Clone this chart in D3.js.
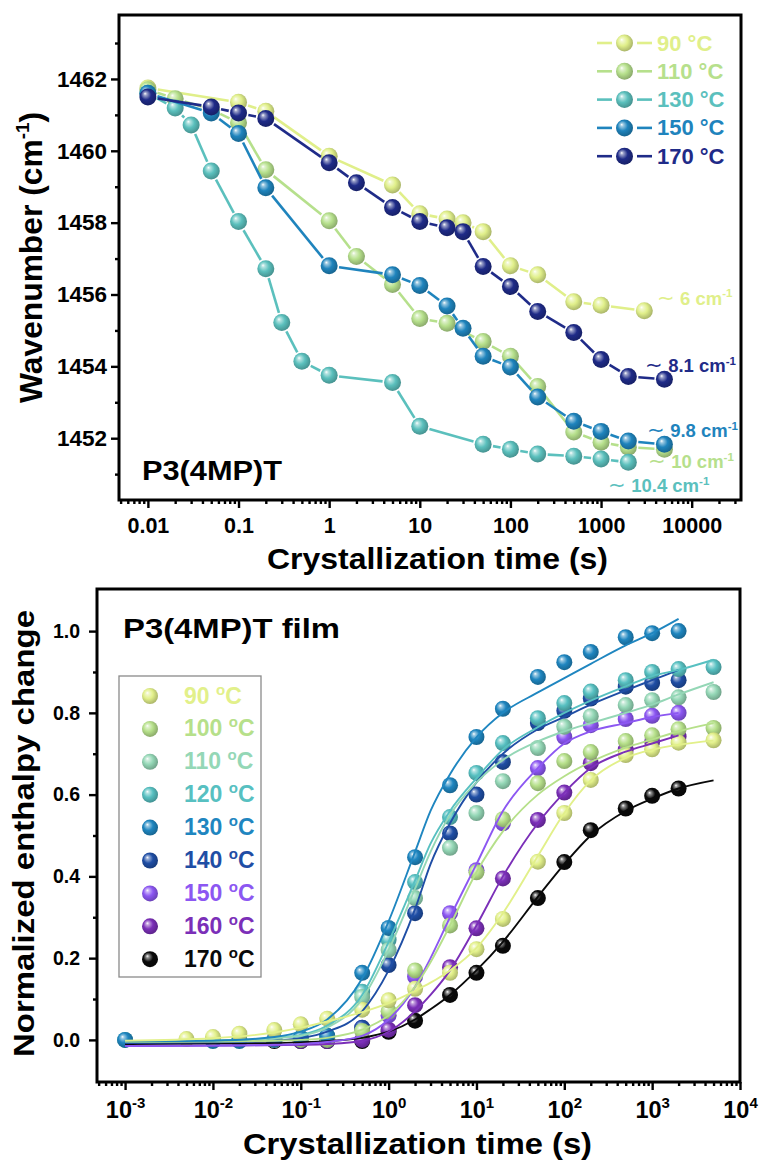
<!DOCTYPE html>
<html>
<head>
<meta charset="utf-8">
<script src="https://cdn.jsdelivr.net/npm/d3@7"></script>
<style>
  body { margin: 0; background: #fff; }
  svg { display: block; }
  text { font-family: "Liberation Sans", Arial, sans-serif; font-weight: bold; }
</style>
</head>
<body>
<svg id="fig" width="759" height="1167"></svg>
<script>
// ---------- Panel (a): IR band position vs crystallization time ----------
const waveTemps  = ["90 °C", "110 °C", "130 °C", "150 °C", "170 °C"];
const waveColors = ["#e0ef8a", "#b6e08c", "#5bc0bd", "#1f84bd", "#1f2b88"];

const time90  = [0.01, 0.1, 0.2, 1, 5, 10, 20, 30, 50, 100, 200, 500, 1000, 3000];
const wave90  = [1461.75, 1461.35, 1461.1, 1459.85, 1459.05, 1458.25, 1458.1, 1458.0, 1457.75, 1456.8, 1456.55, 1455.8, 1455.7, 1455.55];
const time110 = [0.01, 0.02, 0.05, 0.1, 0.2, 1, 2, 5, 10, 20, 50, 100, 200, 500, 1000, 2000, 5000];
const wave110 = [1461.7, 1461.45, 1461.15, 1460.78, 1459.47, 1458.05, 1457.06, 1456.28, 1455.33, 1455.2, 1454.69, 1454.28, 1453.44, 1452.17, 1451.89, 1451.75, 1451.69];
const time130 = [0.01, 0.02, 0.03, 0.05, 0.1, 0.2, 0.3, 0.5, 1, 5, 10, 50, 100, 200, 500, 1000, 2000];
const wave130 = [1461.6, 1461.19, 1460.72, 1459.44, 1458.03, 1456.72, 1455.22, 1454.14, 1453.75, 1453.55, 1452.33, 1451.83, 1451.69, 1451.56, 1451.5, 1451.42, 1451.33];
const time150 = [0.01, 0.05, 0.1, 0.2, 1, 5, 10, 20, 30, 50, 100, 200, 500, 1000, 2000, 5000];
const wave150 = [1461.6, 1461.05, 1460.48, 1458.97, 1456.8, 1456.55, 1456.25, 1455.68, 1455.06, 1454.28, 1453.98, 1453.15, 1452.47, 1452.19, 1451.92, 1451.83];
const time170 = [0.01, 0.05, 0.1, 0.2, 1, 2, 5, 10, 20, 30, 50, 100, 200, 500, 1000, 2000, 5000];
const wave170 = [1461.5, 1461.22, 1461.05, 1460.9, 1459.67, 1459.11, 1458.42, 1458.03, 1457.86, 1457.75, 1456.78, 1456.22, 1455.53, 1454.94, 1454.19, 1453.72, 1453.64];

const waveTimes = [time90, time110, time130, time150, time170];
const waveVals  = [wave90, wave110, wave130, wave150, wave170];

const waveYTicks = [1452, 1454, 1456, 1458, 1460, 1462];
const waveXTicks = [0.01, 0.1, 1, 10, 100, 1000, 10000];
const waveXLabels = ["0.01", "0.1", "1", "10", "100", "1000", "10000"];

// shift annotations: label, colour index, anchor (time, wavenumber)
const shiftLabels = ["6", "8.1", "9.8", "10", "10.4"];
const shiftColor  = [0, 4, 3, 1, 2];
const shiftTime   = [4140, 3055, 3214, 3296, 1194];
const shiftWave   = [1455.71, 1453.84, 1452.03, 1451.16, 1450.5];

// ---------- Panel (b): normalized enthalpy change vs crystallization time ----------
const enthTemps  = [90, 100, 110, 120, 130, 140, 150, 160, 170];
const enthColors = ["#e2f08a", "#b6e08a", "#94d7b6", "#57c0c1", "#1f86c0", "#1f4ea5", "#8c57f2", "#7b2fb8", "#0a0a0a"];

const enthTimes = [0.001, 0.005, 0.01, 0.02, 0.05, 0.1, 0.2, 0.5, 1, 2, 5, 10, 20, 50, 100, 200, 500, 1000, 2000, 5000];
const enth90  = [null, 0.002, 0.007, 0.015, 0.024, 0.038, 0.052, 0.074, 0.097, 0.125, 0.164, 0.222, 0.296, 0.436, 0.555, 0.636, 0.697, 0.711, 0.727, 0.733];
const enth100 = [null, null, 0.0, 0.0, 0.0, 0.0, 0.0, 0.022, 0.07, 0.17, 0.28, 0.41, 0.54, 0.628, 0.682, 0.704, 0.731, 0.745, 0.76, 0.763];
const enth110 = [null, null, 0.0, 0.0, 0.0, 0.002, 0.005, 0.105, 0.22, 0.347, 0.47, 0.555, 0.633, 0.714, 0.766, 0.792, 0.819, 0.831, 0.838, 0.851];
const enth120 = [0.0, null, 0.0, 0.0, 0.0, 0.005, 0.01, 0.118, 0.245, 0.386, 0.545, 0.653, 0.726, 0.787, 0.824, 0.852, 0.88, 0.9, 0.907, 0.912];
const enth130 = [0.0, null, -0.003, -0.003, 0.0, 0.005, 0.01, 0.164, 0.274, 0.447, 0.623, 0.741, 0.81, 0.888, 0.924, 0.949, 0.985, 0.995, 1.0, null];
const enth140 = [null, null, null, null, 0.0, 0.0, 0.0, 0.03, 0.183, 0.31, 0.505, 0.6, 0.68, 0.775, 0.805, 0.835, 0.864, 0.873, 0.88, null];
const enth150 = [null, null, null, null, 0.0, 0.0, 0.0, 0.03, 0.06, 0.155, 0.31, 0.415, 0.53, 0.665, 0.741, 0.77, 0.785, 0.793, 0.8, null];
const enth160 = [null, null, null, null, 0.0, -0.003, -0.003, 0.0, 0.025, 0.085, 0.178, 0.273, 0.395, 0.538, 0.605, 0.677, 0.71, 0.73, 0.742, null];
const enth170 = [null, null, null, null, -0.003, -0.003, -0.003, -0.003, 0.02, 0.047, 0.11, 0.164, 0.23, 0.347, 0.435, 0.513, 0.566, 0.597, 0.615, null];
const enthVals = [enth90, enth100, enth110, enth120, enth130, enth140, enth150, enth160, enth170];

// fitted kinetic curves, sampled on a common time grid
const fitTimes = [0.001, 0.01, 0.05, 0.1, 0.2, 0.5, 1, 2, 3, 5, 10, 20, 50, 100, 200, 500, 1000, 2000, 5000];
const fit90  = [-0.002, 0.004, 0.018, 0.03, 0.045, 0.068, 0.09, 0.12, 0.14, 0.17, 0.225, 0.31, 0.45, 0.555, 0.635, 0.69, 0.71, 0.722, 0.732];
const fit100 = [-0.005, -0.004, -0.002, 0.0, 0.005, 0.025, 0.06, 0.13, 0.19, 0.28, 0.41, 0.51, 0.6, 0.645, 0.68, 0.715, 0.735, 0.755, 0.775];
const fit110 = [-0.004, -0.002, 0.004, 0.01, 0.03, 0.1, 0.22, 0.37, 0.46, 0.55, 0.63, 0.685, 0.73, 0.755, 0.775, 0.8, 0.82, 0.845, 0.875];
const fit120 = [-0.004, -0.002, 0.005, 0.012, 0.035, 0.11, 0.24, 0.39, 0.48, 0.56, 0.64, 0.71, 0.765, 0.8, 0.83, 0.865, 0.89, 0.905, 0.93];
const fit130 = [-0.004, -0.002, 0.007, 0.02, 0.05, 0.15, 0.29, 0.46, 0.56, 0.65, 0.74, 0.8, 0.85, 0.885, 0.92, 0.965, 0.995, 1.03, null];
const fit140 = [-0.008, -0.006, -0.002, 0.004, 0.02, 0.07, 0.17, 0.32, 0.43, 0.53, 0.63, 0.7, 0.76, 0.79, 0.82, 0.855, 0.88, 0.905, null];
const fit150 = [-0.015, -0.014, -0.012, -0.01, -0.005, 0.01, 0.05, 0.13, 0.2, 0.3, 0.43, 0.56, 0.665, 0.725, 0.755, 0.775, 0.79, 0.8, null];
const fit160 = [-0.015, -0.014, -0.013, -0.012, -0.01, -0.002, 0.02, 0.07, 0.11, 0.17, 0.28, 0.4, 0.53, 0.605, 0.665, 0.705, 0.725, 0.745, null];
const fit170 = [-0.01, -0.009, -0.008, -0.006, -0.003, 0.005, 0.02, 0.05, 0.075, 0.11, 0.17, 0.24, 0.35, 0.43, 0.5, 0.56, 0.59, 0.615, 0.635];
const fitVals = [fit90, fit100, fit110, fit120, fit130, fit140, fit150, fit160, fit170];

const enthYTicks = [0.0, 0.2, 0.4, 0.6, 0.8, 1.0];
const enthYMinor = [0.1, 0.3, 0.5, 0.7, 0.9];
const enthXTicks = [1e-3, 1e-2, 1e-1, 1, 10, 100, 1000, 10000];
const enthXExp   = ["-3", "-2", "-1", "0", "1", "2", "3", "4"];
const enthDrawOrder = [8, 7, 6, 5, 3, 2, 1, 4, 0];

// ---------- set-up ----------
const svg = d3.select("#fig");
const defs = svg.append("defs");

function sphere(id, color) {
  const c = d3.color(color);
  const g = defs.append("radialGradient").attr("id", id)
    .attr("cx", "45%").attr("cy", "45%").attr("r", "60%")
    .attr("fx", "33%").attr("fy", "30%");
  g.append("stop").attr("offset", "0%").attr("stop-color", "#ffffff");
  g.append("stop").attr("offset", "16%").attr("stop-color", d3.interpolateRgb(color, "#ffffff")(0.55));
  g.append("stop").attr("offset", "50%").attr("stop-color", color);
  g.append("stop").attr("offset", "100%").attr("stop-color", c.darker(0.9).formatHex());
  return `url(#${id})`;
}
const waveFill = waveColors.map((c, i) => sphere("wv" + i, c));
const enthFill = enthColors.map((c, i) => sphere("en" + i, c));

function logMinor(dom, majors) {
  const out = [];
  for (let e = -5; e <= 5; e++) for (let k = 1; k <= 9; k++) {
    const v = +(k * Math.pow(10, e)).toPrecision(6);
    if (v >= dom[0] && v <= dom[1] && !majors.some(m => Math.abs(m - v) / m < 1e-6)) out.push(v);
  }
  return out;
}
function styleAxis(g) {
  g.select(".domain").remove();
  g.selectAll(".tick line").attr("stroke", "#000").attr("stroke-width", 2.4);
}

// ================= Panel (a) =================
const xT = d3.scaleLog().domain([0.0048, 35000]).range([119, 741]);
const yT = d3.scaleLinear().domain([1450.28, 1463.78]).range([500, 15]);
const gA = svg.append("g");

// axes
const yAx = gA.append("g").attr("transform", "translate(119,0)")
  .call(d3.axisLeft(yT).tickValues(waveYTicks).tickSize(8).tickFormat(d3.format("d")));
styleAxis(yAx);
yAx.selectAll("text").attr("x", -12).attr("font-size", 22.5).attr("fill", "#000");
const yAxm = gA.append("g").attr("transform", "translate(119,0)")
  .call(d3.axisLeft(yT).tickValues(d3.range(1451, 1464, 2)).tickSize(4).tickFormat(""));
styleAxis(yAxm);

const xAx = gA.append("g").attr("transform", "translate(0,500)")
  .call(d3.axisBottom(xT).tickValues(waveXTicks).tickSize(8).tickFormat((d, i) => waveXLabels[i]));
styleAxis(xAx);
xAx.selectAll("text").attr("y", 33).attr("dy", null).attr("font-size", 21.5).attr("fill", "#000");
const xAxm = gA.append("g").attr("transform", "translate(0,500)")
  .call(d3.axisBottom(xT).tickValues(logMinor(xT.domain(), waveXTicks)).tickSize(4).tickFormat(""));
styleAxis(xAxm);

gA.append("rect").attr("x", 119).attr("y", 15).attr("width", 622).attr("height", 485)
  .attr("fill", "none").attr("stroke", "#000").attr("stroke-width", 3);

// series: line segments with a gap around each sphere
const rA = 8.5, gapA = rA + 1.5;
waveTimes.forEach((ts, s) => {
  const pts = ts.map((t, i) => [xT(t), yT(waveVals[s][i])]);
  const g = gA.append("g");
  for (let i = 0; i < pts.length - 1; i++) {
    const [x1, y1] = pts[i], [x2, y2] = pts[i + 1];
    const dx = x2 - x1, dy = y2 - y1, L = Math.hypot(dx, dy);
    if (L <= 2 * gapA) continue;
    const ux = dx / L, uy = dy / L;
    g.append("line")
      .attr("x1", x1 + ux * gapA).attr("y1", y1 + uy * gapA)
      .attr("x2", x2 - ux * gapA).attr("y2", y2 - uy * gapA)
      .attr("stroke", waveColors[s]).attr("stroke-width", 2.6);
  }
  g.selectAll("circle").data(pts).join("circle")
    .attr("cx", d => d[0]).attr("cy", d => d[1]).attr("r", rA)
    .attr("fill", waveFill[s]);
});

// legend
const legA = gA.append("g");
waveTemps.forEach((lab, i) => {
  const cy = 43 + i * 28.3;
  legA.append("line").attr("x1", 597).attr("x2", 612).attr("y1", cy).attr("y2", cy)
    .attr("stroke", waveColors[i]).attr("stroke-width", 2.6);
  legA.append("line").attr("x1", 637).attr("x2", 652).attr("y1", cy).attr("y2", cy)
    .attr("stroke", waveColors[i]).attr("stroke-width", 2.6);
  legA.append("circle").attr("cx", 624.5).attr("cy", cy).attr("r", rA).attr("fill", waveFill[i]);
  legA.append("text").attr("x", 657).attr("y", cy + 7.5).attr("font-size", 22)
    .attr("fill", waveColors[i]).text(lab);
});

// shift annotations
shiftLabels.forEach((lab, i) => {
  const t = gA.append("text").attr("x", xT(shiftTime[i])).attr("y", yT(shiftWave[i]))
    .attr("font-size", 18.5).attr("fill", waveColors[shiftColor[i]]);
  t.append("tspan").attr("font-weight", "normal").attr("font-size", 21).text("\u223C");
  t.append("tspan").text(" " + lab + " cm");
  t.append("tspan").attr("font-size", 11.5).attr("dy", -7.5).text("-1");
});

gA.append("text").attr("x", 142).attr("y", 480).attr("font-size", 27)
  .attr("textLength", 140).attr("lengthAdjust", "spacingAndGlyphs").text("P3(4MP)T");

gA.append("text").attr("x", 267).attr("y", 569).attr("font-size", 30)
  .attr("textLength", 341).attr("lengthAdjust", "spacingAndGlyphs").text("Crystallization time (s)");

const yTitleA = gA.append("text").attr("transform", "translate(42,403) rotate(-90)")
  .attr("font-size", 32).attr("textLength", 291).attr("lengthAdjust", "spacingAndGlyphs");
yTitleA.append("tspan").text("Wavenumber (cm");
yTitleA.append("tspan").attr("font-size", 19).attr("dy", -13).text("-1");
yTitleA.append("tspan").attr("dy", 13).text(")");

// ================= Panel (b) =================
const xB = d3.scaleLog().domain([0.000479, 10000]).range([97, 740]);
const yB = d3.scaleLinear().domain([-0.103, 1.103]).range([1082, 589]);
const gB = svg.append("g");

const yBx = gB.append("g").attr("transform", "translate(97,0)")
  .call(d3.axisLeft(yB).tickValues(enthYTicks).tickSize(8).tickFormat(d3.format(".1f")));
styleAxis(yBx);
yBx.selectAll("text").attr("x", -17).attr("font-size", 19.5).attr("fill", "#000");
const yBm = gB.append("g").attr("transform", "translate(97,0)")
  .call(d3.axisLeft(yB).tickValues(enthYMinor).tickSize(4).tickFormat(""));
styleAxis(yBm);

const xBx = gB.append("g").attr("transform", "translate(0,1082)")
  .call(d3.axisBottom(xB).tickValues(enthXTicks).tickSize(8).tickFormat(""));
styleAxis(xBx);
xBx.selectAll(".tick").append("text")
  .attr("y", 36).attr("text-anchor", "middle").attr("fill", "#000").attr("font-size", 23.5)
  .each(function (d, i) {
    const t = d3.select(this);
    t.append("tspan").text("10");
    t.append("tspan").attr("font-size", 15).attr("dy", -10).text(enthXExp[i]);
  });
const xBm = gB.append("g").attr("transform", "translate(0,1082)")
  .call(d3.axisBottom(xB).tickValues(logMinor(xB.domain(), enthXTicks)).tickSize(4).tickFormat(""));
styleAxis(xBm);

gB.append("rect").attr("x", 97).attr("y", 589).attr("width", 643).attr("height", 493)
  .attr("fill", "none").attr("stroke", "#000").attr("stroke-width", 3);

// data spheres
const rB = 8;
enthDrawOrder.forEach(s => {
  const pts = enthTimes.map((t, i) => [t, enthVals[s][i]]).filter(d => d[1] !== null);
  gB.append("g").selectAll("circle").data(pts).join("circle")
    .attr("cx", d => xB(d[0])).attr("cy", d => yB(d[1])).attr("r", rB)
    .attr("fill", enthFill[s]);
});

// fitted curves
const fitLine = d3.line()
  .defined(d => d[1] !== null)
  .x(d => xB(d[0])).y(d => yB(d[1]))
  .curve(d3.curveMonotoneX);
enthDrawOrder.forEach(s => {
  gB.append("path")
    .datum(fitTimes.map((t, i) => [t, fitVals[s][i]]))
    .attr("d", fitLine).attr("fill", "none")
    .attr("stroke", enthColors[s]).attr("stroke-width", 1.9);
});

// legend box
const legB = gB.append("g");
legB.append("rect").attr("x", 119).attr("y", 676).attr("width", 142).attr("height", 301)
  .attr("fill", "#fff").attr("stroke", "#8a8a8a").attr("stroke-width", 1.3);
enthTemps.forEach((T, i) => {
  const cy = 696 + i * 32.9;
  legB.append("circle").attr("cx", 150).attr("cy", cy).attr("r", rB).attr("fill", enthFill[i]);
  const t = legB.append("text").attr("x", 184).attr("y", cy + 7.5).attr("font-size", 23)
    .attr("fill", enthColors[i]);
  t.append("tspan").text(T + " ");
  t.append("tspan").attr("font-size", 15).attr("dy", -9).text("o");
  t.append("tspan").attr("dy", 9).text("C");
});

gB.append("text").attr("x", 123).attr("y", 638).attr("font-size", 28)
  .attr("textLength", 217).attr("lengthAdjust", "spacingAndGlyphs").text("P3(4MP)T film");

gB.append("text").attr("x", 243).attr("y", 1154).attr("font-size", 30)
  .attr("textLength", 349).attr("lengthAdjust", "spacingAndGlyphs").text("Crystallization time (s)");

gB.append("text").attr("transform", "translate(34,1057) rotate(-90)")
  .attr("font-size", 29).attr("textLength", 447).attr("lengthAdjust", "spacingAndGlyphs")
  .text("Normalized enthalpy change");
</script>
</body>
</html>
